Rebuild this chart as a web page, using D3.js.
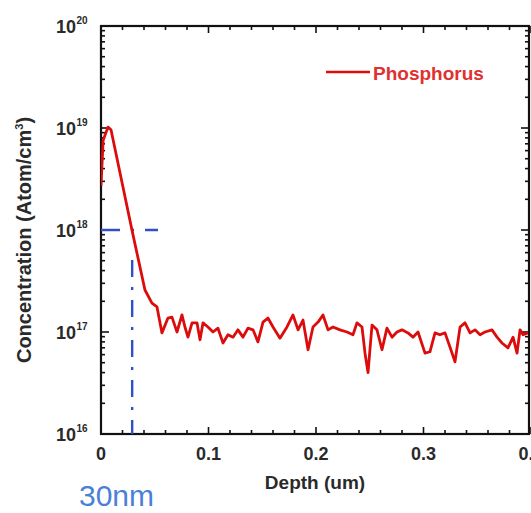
<!DOCTYPE html>
<html><head><meta charset="utf-8">
<script src="https://cdn.jsdelivr.net/npm/d3@7"></script>
<style>
html,body{margin:0;padding:0;background:#fff;}
svg{display:block;}
text{font-family:"Liberation Sans",Arial,sans-serif;}
</style></head>
<body>
<script>
// ---- data ----
const depth = [0.000,0.002,0.0065,0.0093,0.0288,0.0409,0.0474,0.0521,0.0567,0.0623,0.0660,0.0707,0.0753,0.0781,0.0809,0.0847,0.0893,0.0921,0.0949,0.0995,0.1042,0.1088,0.1135,0.1181,0.1228,0.1274,0.1321,0.1367,0.1414,0.1460,0.1507,0.1553,0.1600,0.1665,0.1730,0.1786,0.1833,0.1879,0.1926,0.1972,0.2019,0.2065,0.2112,0.2158,0.2223,0.2288,0.2344,0.2381,0.2428,0.2456,0.2484,0.2521,0.2567,0.2614,0.2660,0.2707,0.2753,0.2800,0.2856,0.2902,0.2949,0.3014,0.3060,0.3107,0.3153,0.3200,0.3247,0.3293,0.3340,0.3386,0.3433,0.3479,0.3526,0.3572,0.3637,0.3684,0.3730,0.3786,0.3833,0.3870,0.3898,0.3926,0.3972];
const phosphorus = [2.7e18,7.6e18,1.02e19,9.6e18,1.0e18,2.58e17,1.92e17,1.76e17,9.8e16,1.37e17,1.40e17,1.00e17,1.47e17,1.12e17,8.9e16,1.23e17,1.23e17,8.4e16,1.23e17,1.12e17,1.00e17,1.09e17,7.8e16,9.4e16,8.9e16,1.05e17,8.9e16,1.09e17,1.05e17,8.0e16,1.25e17,1.37e17,1.12e17,8.7e16,1.12e17,1.47e17,1.05e17,1.31e17,6.7e16,1.12e17,1.25e17,1.47e17,1.05e17,1.12e17,1.05e17,1.00e17,9.4e16,1.23e17,1.12e17,6.2e16,4.0e16,1.17e17,1.05e17,6.7e16,1.09e17,8.9e16,1.00e17,1.05e17,9.8e16,8.9e16,1.00e17,6.2e16,6.4e16,9.8e16,9.4e16,9.8e16,7.1e16,5.1e16,1.12e17,1.23e17,9.8e16,1.05e17,9.4e16,1.00e17,1.05e17,8.9e16,7.8e16,7.0e16,8.9e16,6.2e16,1.05e17,9.4e16,9.8e16];
const xTickValues = [0,0.1,0.2,0.3,0.4];
const xTickLabels = ["0","0.1","0.2","0.3","0.4"];
const yDecades = [1e16,1e17,1e18,1e19,1e20];
const yExponents = ["16","17","18","19","20"];
const markerDepth = [0.029];      // junction depth marker (um)
const markerConc = [1e18];        // reference concentration level
const seriesName = ["Phosphorus"];
const annotation = ["30nm"];

// ---- layout ----
const W = 531, H = 513;
const L = 101, R = 529, T = 26, B = 434;
const x = d3.scaleLinear().domain([0,0.4]).range([L, 531]);
const y = d3.scaleLog().domain([1e16,1e20]).range([B, T]);

const svg = d3.select("body").append("svg").attr("width",W).attr("height",H);

svg.append("defs").append("clipPath").attr("id","clip")
  .append("rect").attr("x",L).attr("y",T).attr("width",R-L).attr("height",B-T);

// minor/major tick values
const xMinor = d3.range(0, 0.4001, 0.02).filter(v => Math.abs(v*10 - Math.round(v*10)) > 1e-6);
const yMinor = [];
for (let e = 16; e < 20; e++) for (let m = 2; m <= 9; m++) yMinor.push(m*Math.pow(10,e));

const tickG = svg.append("g").attr("stroke","#111").attr("stroke-width",1.6);
xTickValues.forEach(v => {
  tickG.append("line").attr("x1",x(v)).attr("x2",x(v)).attr("y1",B).attr("y2",B-7);
  tickG.append("line").attr("x1",x(v)).attr("x2",x(v)).attr("y1",T).attr("y2",T+7);
});
xMinor.forEach(v => {
  tickG.append("line").attr("x1",x(v)).attr("x2",x(v)).attr("y1",B).attr("y2",B-4);
  tickG.append("line").attr("x1",x(v)).attr("x2",x(v)).attr("y1",T).attr("y2",T+4);
});
yDecades.forEach(v => {
  tickG.append("line").attr("y1",y(v)).attr("y2",y(v)).attr("x1",L).attr("x2",L+8);
  tickG.append("line").attr("y1",y(v)).attr("y2",y(v)).attr("x1",R).attr("x2",R-8);
});
yMinor.forEach(v => {
  tickG.append("line").attr("y1",y(v)).attr("y2",y(v)).attr("x1",L).attr("x2",L+4);
  tickG.append("line").attr("y1",y(v)).attr("y2",y(v)).attr("x1",R).attr("x2",R-4);
});

// frame
svg.append("rect").attr("x",L).attr("y",T).attr("width",R-L).attr("height",B-T)
  .attr("fill","none").attr("stroke","#111").attr("stroke-width",2.2);

// x tick labels
svg.append("g").selectAll("text").data(xTickValues).join("text")
  .attr("x", d => x(d)).attr("y", 460)
  .attr("text-anchor","middle").attr("font-size",18).attr("font-weight","bold").attr("fill","#2a2a2a")
  .text((d,i) => xTickLabels[i]);

// y tick labels
const yl = svg.append("g");
yDecades.forEach((v,i) => {
  yl.append("text").attr("x", 76).attr("y", y(v)+7)
    .attr("text-anchor","end").attr("font-size",18).attr("font-weight","bold").attr("fill","#2a2a2a")
    .text("10");
  yl.append("text").attr("x", 76.5).attr("y", y(v)-2)
    .attr("font-size",10).attr("font-weight","bold").attr("fill","#2a2a2a")
    .text(yExponents[i]);
});

// axis titles
svg.append("text").attr("x",315).attr("y",489).attr("text-anchor","middle")
  .attr("font-size",19).attr("font-weight","bold").attr("fill","#2a2a2a").text("Depth (um)");
const yt = svg.append("text").attr("transform","translate(31,240) rotate(-90)")
  .attr("text-anchor","middle").attr("font-size",20).attr("font-weight","bold").attr("fill","#2a2a2a");
yt.append("tspan").text("Concentration (Atom/cm");
yt.append("tspan").attr("font-size",11).attr("dy",-8).text("3");
yt.append("tspan").attr("dy",8).text(")");

// marker lines
const mk = svg.append("g").attr("clip-path","url(#clip)").attr("stroke","#3050c8").attr("stroke-width",2.4).attr("fill","none");
mk.append("line").attr("x1",x(0)).attr("x2",x(0.053)).attr("y1",y(markerConc[0])).attr("y2",y(markerConc[0]))
  .attr("stroke-dasharray","19,11,3,11");
mk.append("line").attr("x1",x(markerDepth[0])).attr("x2",x(markerDepth[0])).attr("y1",y(markerConc[0])).attr("y2",B)
  .attr("stroke-dasharray","0,30,17,10,3,10,17,10,3,10,17,10,3,10,17,10,3,10,17,10,3,10,17,10,3,10,17,10,3,10");

// data line
const line = d3.line().x((d,i) => x(depth[i])).y(d => y(d));
svg.append("path").attr("clip-path","url(#clip)").datum(phosphorus)
  .attr("d", line).attr("fill","none").attr("stroke","#dc0c0c").attr("stroke-width",2.8)
  .attr("stroke-linejoin","round");

// legend
svg.append("line").attr("x1",326).attr("x2",370).attr("y1",72).attr("y2",72)
  .attr("stroke","#dc0c0c").attr("stroke-width",2.6);
svg.append("text").attr("x",373).attr("y",80).attr("font-size",19).attr("font-weight","bold")
  .attr("fill","#e03030").text(seriesName[0]);

// annotation
svg.append("text").attr("x",79).attr("y",506).attr("font-size",30).attr("fill","#4a80d8").text(annotation[0]);
</script>
</body></html>
